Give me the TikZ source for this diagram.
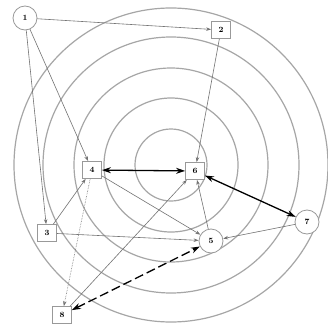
\documentclass[tikz,border=0pt]{standalone}
\usetikzlibrary{arrows.meta}
\begin{document}
\begin{tikzpicture}[x=1pt,y=-1pt,
  ring/.style={draw=black!35,line width=1.2pt},
  cnode/.style={circle,draw=black!40,line width=0.8pt,fill=white,minimum size=24pt,inner sep=0pt,font=\fontsize{8}{9}\selectfont\bfseries},
  bnode/.style={rectangle,draw=black!40,line width=0.8pt,fill=white,minimum width=19pt,minimum height=17pt,inner sep=0pt,font=\fontsize{8}{9}\selectfont\bfseries},
  thin/.style={draw=black!55,line width=0.6pt,-{Stealth[length=5pt,width=3.5pt]}},
  dots/.style={thin,densely dotted},
  thick2/.style={draw=black,line width=1.3pt,{Stealth[length=9pt,width=6pt]}-{Stealth[length=9pt,width=6pt]}},
  thickdash/.style={thick2,dash pattern=on 9pt off 4pt}
]
\useasboundingbox (0,0) rectangle (328,332);
\fill[white] (0,0) rectangle (328,332);
\coordinate (c) at (171,165);
\foreach \r in {36,67,97,128,157} \draw[ring] (c) circle (\r);

\node[cnode] (n1) at (25,18) {1};
\node[bnode] (n2) at (221,30) {2};
\node[bnode] (n4) at (92,170) {4};
\node[bnode] (n6) at (195,171) {6};
\node[cnode] (n7) at (307,222) {7};
\node[cnode] (n5) at (211,241) {5};
\node[bnode] (n3) at (47,233) {3};
\node[bnode] (n8) at (62,315) {8};

\draw[thin] (n1) -- (n2);
\draw[thin] (n1) -- (n4);
\draw[thin] (n1) -- (n3);
\draw[thin] (n2) -- (n6);
\draw[thin] (n7) -- (n5);
\draw[thin] (n3) -- (n5);
\draw[thin] (n4) -- (n5);
\draw[thin] (n3) -- (n4);
\draw[dots] (n4) -- (n8);
\draw[thin] (n8) -- (n6);
\draw[thin] (n5) -- (n6);
\draw[thick2] (n4) -- (n6);
\draw[thick2] (n6) -- (n7);
\draw[thickdash] (n8) -- (n5);
\end{tikzpicture}
\end{document}
